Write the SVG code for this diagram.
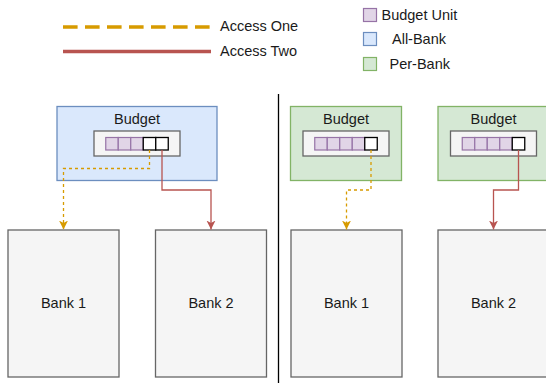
<svg xmlns="http://www.w3.org/2000/svg" width="546" height="383" viewBox="0 0 546 383">
<defs>
<style>
text{font-family:"Liberation Sans",Arial,sans-serif;font-size:14.5px;fill:#1a1a1a}
.mid{text-anchor:middle}
.bank{fill:#f5f5f5;stroke:#666666;stroke-width:1.3}
.inner{fill:#f5f5f5;stroke:#666666;stroke-width:1.3}
.allbank{fill:#dae8fc;stroke:#6c8ebf;stroke-width:1.3}
.perbank{fill:#d5e8d4;stroke:#82b366;stroke-width:1.3}
.unit{fill:#e1d5e7;stroke:#9673a6;stroke-width:1.2}
.sel{fill:#ffffff;stroke:#000000;stroke-width:1.3}
.one{fill:none;stroke:#d79b00;stroke-width:1.3;stroke-dasharray:3 3}
.two{fill:none;stroke:#b85450;stroke-width:1.3}
</style>
<marker id="arrOne" markerUnits="userSpaceOnUse" markerWidth="12" markerHeight="10" refX="9" refY="4.5" orient="auto">
<path d="M0,0 L9,4.5 L0,9 L2.5,4.5 Z" fill="#d79b00"/>
</marker>
<marker id="arrTwo" markerUnits="userSpaceOnUse" markerWidth="12" markerHeight="10" refX="9" refY="4.5" orient="auto">
<path d="M0,0 L9,4.5 L0,9 L2.5,4.5 Z" fill="#b85450"/>
</marker>
</defs>
<rect width="546" height="383" fill="#ffffff"/>

<g id="legend">
<line x1="63" y1="27" x2="211" y2="27" stroke="#d79b00" stroke-width="3.5" stroke-dasharray="14.6 7.4"/>
<text x="220" y="30.5">Access One</text>
<line x1="63" y1="51.5" x2="211" y2="51.5" stroke="#b85450" stroke-width="3.5"/>
<text x="220" y="55.5">Access Two</text>
<rect class="unit" x="363.5" y="8.5" width="13" height="13"/>
<text x="381.5" y="19.5">Budget Unit</text>
<rect x="363.5" y="32.5" width="13" height="13" fill="#dae8fc" stroke="#6c8ebf" stroke-width="1.2"/>
<text x="392" y="44">All-Bank</text>
<rect x="363.5" y="57.5" width="13" height="13" fill="#d5e8d4" stroke="#82b366" stroke-width="1.2"/>
<text x="389.5" y="68.5">Per-Bank</text>
</g>

<g id="divider">
<line x1="278.5" y1="94" x2="278.5" y2="383" stroke="#000000" stroke-width="1.3"/>
</g>

<g id="budget-allbank">
<rect class="allbank" x="57" y="106.5" width="160" height="74"/>
<text class="mid" x="137" y="124">Budget</text>
<rect class="inner" x="94" y="131" width="86" height="25"/>
<rect class="unit" x="105.75" y="137.5" width="12.5" height="12.5"/>
<rect class="unit" x="118.25" y="137.5" width="12.5" height="12.5"/>
<rect class="unit" x="130.75" y="137.5" width="12.5" height="12.5"/>
<rect class="sel" x="143.25" y="137.5" width="12.5" height="12.5"/>
<rect class="sel" x="155.75" y="137.5" width="12.5" height="12.5"/>
</g>

<g id="budget-perbank-1">
<rect class="perbank" x="290.5" y="106.5" width="111" height="74"/>
<text class="mid" x="346" y="124">Budget</text>
<rect class="inner" x="303" y="131" width="86" height="25"/>
<rect class="unit" x="314.75" y="137.5" width="12.5" height="12.5"/>
<rect class="unit" x="327.25" y="137.5" width="12.5" height="12.5"/>
<rect class="unit" x="339.75" y="137.5" width="12.5" height="12.5"/>
<rect class="unit" x="352.25" y="137.5" width="12.5" height="12.5"/>
<rect class="sel" x="364.75" y="137.5" width="12.5" height="12.5"/>
</g>

<g id="budget-perbank-2">
<rect class="perbank" x="438" y="106.5" width="111" height="74"/>
<text class="mid" x="493.5" y="124">Budget</text>
<rect class="inner" x="450.5" y="131" width="86" height="25"/>
<rect class="unit" x="462.25" y="137.5" width="12.5" height="12.5"/>
<rect class="unit" x="474.75" y="137.5" width="12.5" height="12.5"/>
<rect class="unit" x="487.25" y="137.5" width="12.5" height="12.5"/>
<rect class="unit" x="499.75" y="137.5" width="12.5" height="12.5"/>
<rect class="sel" x="512.25" y="137.5" width="12.5" height="12.5"/>
</g>

<g id="bank1-left">
<rect class="bank" x="8" y="230" width="111" height="147"/>
<text class="mid" x="63.5" y="308">Bank 1</text>
</g>
<g id="bank2-left">
<rect class="bank" x="155.5" y="230" width="111" height="147"/>
<text class="mid" x="211" y="308">Bank 2</text>
</g>
<g id="bank1-right">
<rect class="bank" x="291" y="230" width="111" height="147"/>
<text class="mid" x="346.5" y="308">Bank 1</text>
</g>
<g id="bank2-right">
<rect class="bank" x="438" y="230" width="111" height="147"/>
<text class="mid" x="493.5" y="308">Bank 2</text>
</g>

<g id="connectors">
<path class="one" d="M149.5,150 V168.5 H63.5 V229.5" marker-end="url(#arrOne)"/>
<path class="two" d="M162,150 V190 H211 V229.5" marker-end="url(#arrTwo)"/>
<path class="one" d="M371,150 V190 H346.5 V229.5" marker-end="url(#arrOne)"/>
<path class="two" d="M518.5,150 V190 H493.5 V229.5" marker-end="url(#arrTwo)"/>
</g>
</svg>
